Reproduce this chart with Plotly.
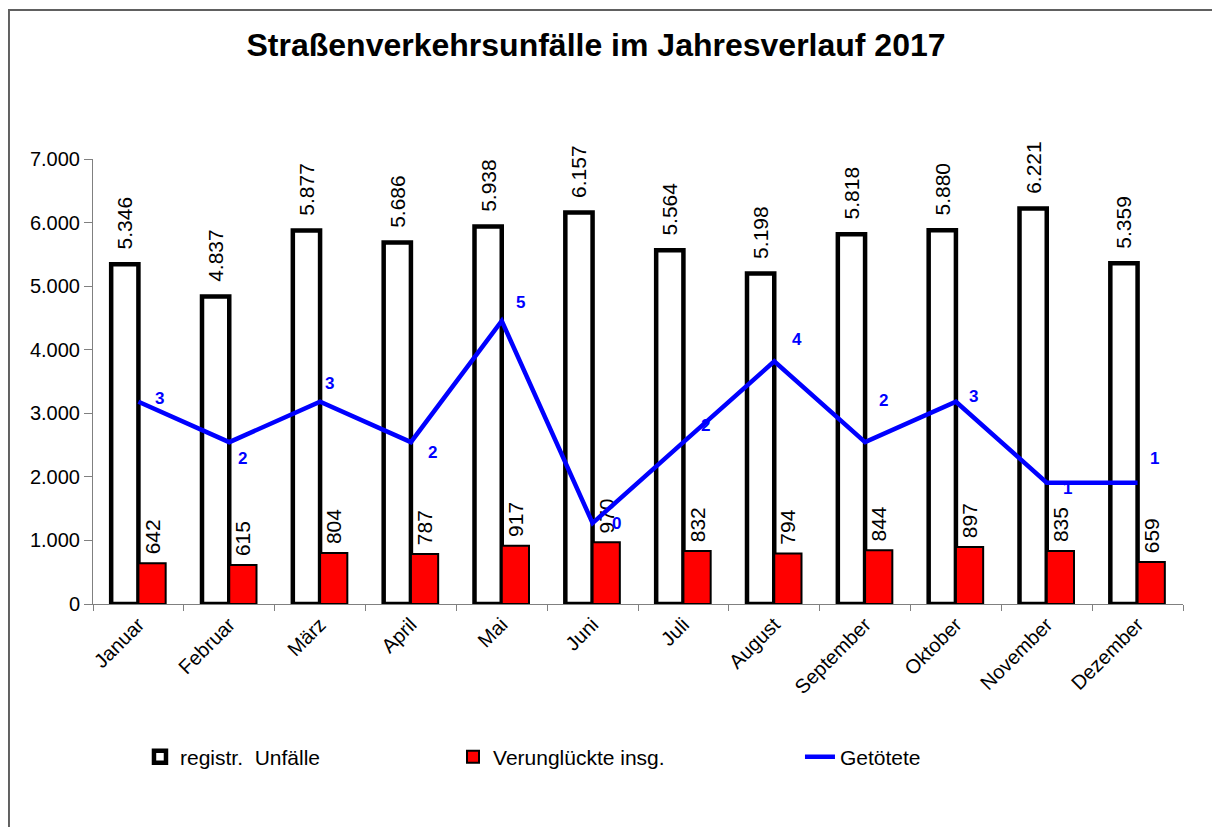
import plotly.graph_objects as go

monate = ["Januar", "Februar", "März", "April", "Mai", "Juni", "Juli", "August",
          "September", "Oktober", "November", "Dezember"]
unfaelle = [5346, 4837, 5877, 5686, 5938, 6157, 5564, 5198, 5818, 5880, 6221, 5359]
verunglueckte = [642, 615, 804, 787, 917, 970, 832, 794, 844, 897, 835, 659]
getoetete = [3, 2, 3, 2, 5, 0, 2, 4, 2, 3, 1, 1]

# label offsets (pixels) for the "Getötete" data labels
lab_dx = [21, 13, 9, 22, 19, 24, 22, 23, 18, 18, 21, 17]
lab_dy = [3, -16, 18, -10, 18, 0, 17, 22, 42, 5, -6, 24]

FONT = "Arial, Liberation Sans, sans-serif"
NB = "\u00a0"

fig = go.Figure()
fig.add_trace(go.Bar(
    x=monate, y=unfaelle, name="registr.  Unfälle", legend="legend", showlegend=True,
    marker=dict(color="white", line=dict(color="black", width=4.5)),
    texttemplate=NB * 2 + "%{y:,}", textposition="outside", textangle=-90,
    constraintext="none", cliponaxis=False,
    textfont=dict(family=FONT, size=21, color="black"),
))
fig.add_trace(go.Bar(
    x=monate, y=verunglueckte, name="Verunglückte insg.", legend="legend2", showlegend=True,
    marker=dict(color="#ff0000", line=dict(color="black", width=2)),
    texttemplate=NB + "%{y:,}", textposition="outside", textangle=-90,
    constraintext="none", cliponaxis=False,
    textfont=dict(family=FONT, size=21, color="black"),
))
fig.add_trace(go.Scatter(
    x=monate, y=getoetete, name="Getötete", yaxis="y2", legend="legend3", showlegend=True,
    mode="lines", line=dict(color="#0000ff", width=4.5),
    cliponaxis=False,
))

annotations = []
for m, v, dx, dy in zip(monate, getoetete, lab_dx, lab_dy):
    annotations.append(dict(
        x=m, y=v, xref="x", yref="y2", text=f"<b>{v}</b>", showarrow=False,
        xshift=dx, yshift=dy, xanchor="center", yanchor="middle",
        font=dict(family=FONT, size=17, color="#0000ff"),
    ))

legend_common = dict(orientation="h", xanchor="left", y=-0.344, yanchor="middle",
                     font=dict(family=FONT, size=21, color="black"),
                     bgcolor="rgba(0,0,0,0)", visible=True)

fig.update_layout(
    width=1220, height=827,
    showlegend=True,
    margin=dict(l=85, r=45, t=151, b=231),
    paper_bgcolor="white", plot_bgcolor="white",
    separators=",.",
    barmode="group", bargap=0.4, bargroupgap=0,
    title=dict(text="<b>Straßenverkehrsunfälle im Jahresverlauf 2017</b>",
               x=0.482, xanchor="center", y=0.955, yanchor="middle",
               font=dict(family=FONT, size=32, color="black")),
    font=dict(family=FONT, size=19, color="black"),
    xaxis=dict(showline=True, linecolor="#808080", linewidth=1,
               ticks="outside", tickson="boundaries", ticklen=6, tickcolor="#808080",
               tickangle=-45, showgrid=False, tickfont=dict(size=20)),
    yaxis=dict(range=[0, 7000], dtick=1000, tickformat=",", showline=True,
               linecolor="#808080", linewidth=1, ticks="outside", ticklen=8,
               tickcolor="#808080", showgrid=False, zeroline=False,
               tickfont=dict(size=20)),
    yaxis2=dict(range=[-2, 9], overlaying="y", visible=False),
    legend=dict(x=0.0431, **legend_common),
    legend2=dict(x=0.3303, **legend_common),
    legend3=dict(x=0.6486, **legend_common),
    annotations=annotations,
    shapes=[dict(type="rect", xref="paper", yref="paper",
                 x0=-0.0771, x1=1.2, y0=-0.7, y1=1.3348,
                 line=dict(color="#606060", width=2), layer="below")],
)

fig.write_html("out.html")
